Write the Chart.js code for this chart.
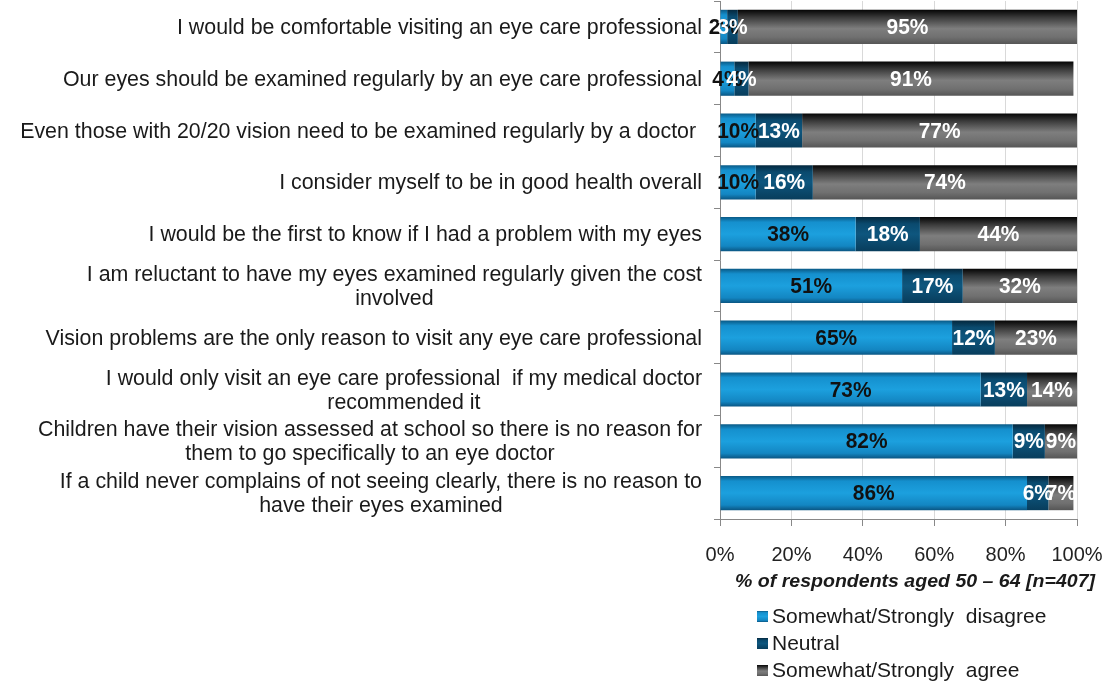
<!DOCTYPE html>
<html>
<head>
<meta charset="utf-8">
<script src="https://cdn.jsdelivr.net/npm/chart.js@4"></script>
<style>
html,body{margin:0;padding:0;background:#fff;}
#wrap{width:1111px;height:688px;position:relative;}
</style>
</head>
<body>
<div id="wrap"><canvas id="c"></canvas></div>
<script>
const categories = [
  ["I would be comfortable visiting an eye care professional"],
  ["Our eyes should be examined regularly by an eye care professional"],
  ["Even those with 20/20 vision need to be examined regularly by a doctor "],
  ["I consider myself to be in good health overall"],
  ["I would be the first to know if I had a problem with my eyes"],
  ["I am reluctant to have my eyes examined regularly given the cost", "involved"],
  ["Vision problems are the only reason to visit any eye care professional"],
  ["I would only visit an eye care professional  if my medical doctor", "recommended it"],
  ["Children have their vision assessed at school so there is no reason for", "them to go specifically to an eye doctor"],
  ["If a child never complains of not seeing clearly, there is no reason to", "have their eyes examined"]
];
const disagree = [2, 4, 10, 10, 38, 51, 65, 73, 82, 86];
const neutral  = [3, 4, 13, 16, 18, 17, 12, 13, 9, 6];
const agree    = [95, 91, 77, 74, 44, 32, 23, 14, 9, 7];
const seriesNames = ["Somewhat/Strongly  disagree", "Neutral", "Somewhat/Strongly  agree"];
const xTicks = [0, 20, 40, 60, 80, 100];
const axisTitle = "% of respondents aged 50 \u2013 64 [n=407]";

const BAR_PCT = 0.66;
const blueStops = [[0,'#0a5a86'],[0.15,'#1590ce'],[0.5,'#1ca0de'],[0.85,'#1386c2'],[1,'#0a5683']];
const navyStops = [[0,'#04283e'],[0.2,'#0a4a6e'],[0.5,'#0e567e'],[1,'#083d5c']];
const grayStops = [[0,'#050505'],[0.22,'#3a3a3a'],[0.55,'#7e7e7e'],[0.8,'#707070'],[1,'#565656']];

function grad(stops) {
  return function(ctx) {
    const chart = ctx.chart;
    const y = chart.scales && chart.scales.y;
    if (!chart.chartArea || !y || ctx.dataIndex === undefined) return stops[2][1];
    const c = y.getPixelForValue(ctx.dataIndex);
    const h = Math.abs(y.getPixelForValue(1) - y.getPixelForValue(0)) * BAR_PCT;
    const g = chart.ctx.createLinearGradient(0, c - h/2, 0, c + h/2);
    stops.forEach(s => g.addColorStop(s[0], s[1]));
    return g;
  };
}

const FONT = '"Liberation Sans", Arial, sans-serif';

const customDraw = {
  id: 'customDraw',
  afterDatasetsDraw(chart) {
    const ctx = chart.ctx;
    const labelColors = ['#111111', '#ffffff', '#ffffff'];
    ctx.save();
    ctx.font = 'bold 22px ' + FONT;
    ctx.textAlign = 'center';
    ctx.textBaseline = 'middle';
    chart.data.datasets.forEach((ds, di) => {
      const meta = chart.getDatasetMeta(di);
      meta.data.forEach((bar, i) => {
        const v = ds.data[i];
        const cx = (bar.x + bar.base) / 2;
        ctx.fillStyle = labelColors[di];
        ctx.save();
        ctx.translate(cx, bar.y + 1);
        ctx.scale(0.95, 1);
        ctx.fillText(v + '%', 0, 0);
        ctx.restore();
      });
    });
    ctx.restore();
  },
  afterDraw(chart) {
    const ctx = chart.ctx;
    const y = chart.scales.y;
    ctx.save();
    // category labels
    ctx.font = '22px ' + FONT;
    ctx.fillStyle = '#1a1a1a';
    ctx.textBaseline = 'middle';
    ctx.textAlign = 'center';
    const refW = ctx.measureText(categories[0][0]).width;
    const sx = 525 / refW;
    const rightX = 702;
    const lineH = 24;
    categories.forEach((lines, i) => {
      const cy = y.getPixelForValue(i);
      let w = 0;
      lines.forEach(l => { w = Math.max(w, ctx.measureText(l).width * sx); });
      const cx = rightX - w / 2;
      lines.forEach((l, k) => {
        const ly = cy + (k - (lines.length - 1) / 2) * lineH + 1;
        ctx.save();
        ctx.translate(cx, ly);
        ctx.scale(sx, 1);
        ctx.fillText(l, 0, 0);
        ctx.restore();
      });
    });
    // axis title
    ctx.font = 'italic bold 18px ' + FONT;
    ctx.fillStyle = '#1a1a1a';
    ctx.textAlign = 'center';
    const tw = ctx.measureText(axisTitle).width;
    ctx.save();
    ctx.translate(915, 582);
    ctx.scale(360 / tw, 1);
    ctx.fillText(axisTitle, 0, 0);
    ctx.restore();
    // legend
    const legColors = [blueStops, navyStops, grayStops];
    ctx.font = '21px ' + FONT;
    ctx.textAlign = 'left';
    seriesNames.forEach((name, i) => {
      const cy = 616 + i * 27;
      const g = ctx.createLinearGradient(0, cy - 5, 0, cy + 6);
      legColors[i].forEach(s => g.addColorStop(s[0], s[1]));
      ctx.fillStyle = g;
      ctx.fillRect(757, cy - 5, 11, 11);
      ctx.fillStyle = '#1a1a1a';
      ctx.fillText(name, 772, cy + 1);
    });
    ctx.restore();
  }
};

new Chart(document.getElementById('c'), {
  type: 'bar',
  data: {
    labels: categories.map(l => l.join(' ')),
    datasets: [
      { label: seriesNames[0], data: disagree, backgroundColor: grad(blueStops) },
      { label: seriesNames[1], data: neutral,  backgroundColor: grad(navyStops) },
      { label: seriesNames[2], data: agree,    backgroundColor: grad(grayStops) }
    ]
  },
  options: {
    indexAxis: 'y',
    responsive: true,
    maintainAspectRatio: false,
    animation: false,
    devicePixelRatio: 1,
    layout: { padding: { top: 1, right: 34, left: 0, bottom: 0 } },
    datasets: { bar: { categoryPercentage: 1, barPercentage: BAR_PCT, borderWidth: 0 } },
    plugins: { legend: { display: false }, tooltip: { enabled: false } },
    scales: {
      x: {
        stacked: true,
        min: 0, max: 100,
        afterBuildTicks(scale) { scale.ticks = xTicks.map(v => ({ value: v })); },
        afterFit(scale) { scale.height = 169; scale.paddingLeft = 0; scale.paddingRight = 0; },
        ticks: {
          callback: v => v + '%',
          font: { family: FONT, size: 20 },
          color: '#222',
          padding: 17,
          maxRotation: 0
        },
        grid: { color: '#d9d9d9', lineWidth: 1, tickLength: 7, tickColor: '#888' },
        border: { color: '#888', width: 1 }
      },
      y: {
        stacked: true,
        afterFit(scale) { scale.width = 720; },
        ticks: { display: false },
        grid: { offset: true, drawOnChartArea: false, drawTicks: true, tickLength: 6, color: '#888' },
        border: { color: '#888', width: 1 }
      }
    }
  },
  plugins: [customDraw]
});
</script>
</body>
</html>
